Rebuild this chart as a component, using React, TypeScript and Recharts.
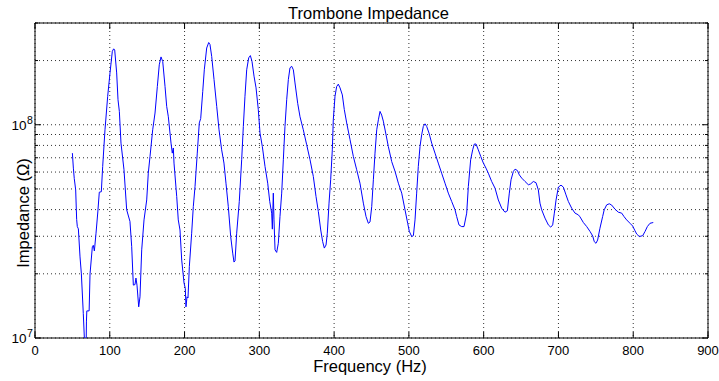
import { CartesianGrid, Line, LineChart, ReferenceArea, XAxis, YAxis } from "recharts"

const FREQ = [
  50, 51.3, 52.5, 54.4, 55.7, 56.6, 58, 60.2, 62, 64.6, 66, 67, 68.2, 68.8, 69.3, 72.4, 73.6, 76.7, 78, 79.4,
  81.6, 84, 86, 88.7, 90.5, 93.6, 97.2, 100.3, 103.4, 105.2, 106.6, 109.2, 111, 112.8, 115, 119, 122.6, 127,
  129.3, 131.5, 133.7, 135, 136.4, 138.7, 140.4, 142.7, 145.8, 149.4, 151.5, 153.8, 157.4, 160.5, 163.6, 166.2,
  168.5, 170.8, 173.9, 176.1, 178.3, 181.9, 183.6, 185, 185.9, 189.5, 191.6, 193.9, 196.2, 199.3, 201, 201.9,
  203.3, 204.6, 206.4, 209.5, 211.7, 214, 217, 219.7, 221.6, 224.3, 226.4, 229.6, 232.3, 234, 236.3, 239.4,
  243, 246.1, 249.6, 252.7, 255.4, 258.5, 261.7, 264.4, 266.1, 267.5, 269.7, 273.2, 276.4, 278.6, 280.8, 283.1,
  285.8, 288, 290.2, 292.9, 295.6, 298.6, 300.9, 304, 307.6, 311.2, 313.9, 316.5, 317.4, 318.7, 319.6, 321,
  323.2, 325.4, 327.6, 329.9, 332.1, 334.3, 336.6, 338.8, 341, 343.3, 345.5, 347.7, 351.3, 354.4, 358.8, 363.3,
  367.8, 372.2, 375.8, 378.9, 382.1, 384.7, 386.9, 389.2, 390.9, 393.2, 395.4, 397.6, 398.9, 401.2, 403.4, 405.6,
  407.9, 411, 413.6, 416.8, 421.3, 425.7, 430.2, 434.6, 439.1, 442.7, 445.8, 448, 450.3, 452.5, 454.7, 457,
  459.2, 461.4, 463.6, 465.8, 469, 472.5, 477, 481.5, 485.9, 490.4, 494.8, 498.4, 500.6, 503.8, 506, 508.2,
  510.4, 512.6, 514.9, 517.1, 519.3, 521.6, 523.8, 526.9, 530.5, 534.9, 539.3, 543.8, 548.3, 552.7, 557.2, 561.7,
  563.9, 567, 570.6, 573.7, 577.3, 579.5, 582.6, 585.3, 587.5, 589.8, 592.8, 596.1, 599.6, 603.1, 606.2, 610.7,
  615.2, 619.6, 624.1, 628.5, 631.7, 634.3, 636.6, 639.7, 642, 645.1, 647.7, 650.9, 655.3, 659.8, 662.9, 666.4,
  670, 673.1, 675.3, 677.6, 682, 686.5, 689.7, 692.3, 694.5, 696.8, 699.9, 703.4, 706.6, 710.1, 713.2, 717.7,
  722.2, 726.6, 728.8, 733.3, 737.8, 742.2, 745.8, 747.9, 750.2, 752.4, 755.5, 759.1, 761.2, 764.5, 768, 771.2,
  775.6, 780.1, 784.6, 787.7, 791.2, 795.7, 799.3, 802.4, 804.7, 808.2, 812.7, 815.8, 818.9, 822.4, 826.8,
]

const IMPEDANCE = [
  7.36e7, 6.26e7, 5.6e7, 4.95e7, 3.6e7, 3.33e7, 3.25e7, 2.4e7, 2.0e7, 1.3e7, 1.0e7, 8.0e6, 8.0e6, 1.2e7, 1.34e7, 1.34e7, 2.0e7, 2.68e7, 2.72e7, 2.56e7,
  3.1e7, 3.9e7, 4.83e7, 4.85e7, 6.37e7, 9.47e7, 1.36e8, 1.75e8, 2.21e8, 2.27e8, 2.24e8, 1.75e8, 1.31e8, 1.155e8, 8.2e7, 6.15e7, 3.99e7, 3.52e7,
  2.68e7, 1.77e7, 1.78e7, 1.91e7, 1.77e7, 1.4e7, 1.56e7, 2.59e7, 3.58e7, 4.44e7, 5.93e7, 7.1e7, 9.47e7, 1.135e8, 1.51e8, 1.91e8,
  2.08e8, 1.98e8, 1.51e8, 1.22e8, 1.09e8, 8.2e7, 7.36e7, 7.78e7, 6.61e7, 4.61e7, 3.58e7, 3.21e7, 2.32e7, 1.81e7, 1.71e7, 1.4e7,
  1.56e7, 1.54e7, 2.16e7, 3.1e7, 4.13e7, 5.13e7, 7.36e7, 1.02e8, 1.07e8, 1.43e8, 1.81e8, 2.29e8, 2.43e8, 2.38e8, 2.09e8, 1.63e8,
  1.22e8, 9.47e7, 7.63e7, 6.61e7, 5.32e7, 4.13e7, 2.99e7, 2.5e7, 2.27e7, 2.3e7, 3.1e7, 4.37e7, 6.85e7, 9.82e7, 1.36e8, 1.81e8,
  2.06e8, 2.11e8, 1.98e8, 1.69e8, 1.49e8, 1.18e8, 9.14e7, 7.91e7, 6.37e7, 5.32e7, 4.37e7, 3.85e7, 3.24e7, 4.78e7, 3.58e7, 2.59e7,
  2.52e7, 2.78e7, 3.71e7, 4.78e7, 6.85e7, 9.82e7, 1.31e8, 1.63e8, 1.85e8, 1.88e8, 1.81e8, 1.57e8, 1.26e8, 1.09e8, 9.47e7, 8.06e7,
  6.85e7, 5.72e7, 4.61e7, 3.92e7, 3.21e7, 2.83e7, 2.64e7, 2.73e7, 3.1e7, 4.29e7, 5.52e7, 7.63e7, 1.055e8, 1.36e8, 1.51e8, 1.55e8,
  1.49e8, 1.38e8, 1.18e8, 1.02e8, 8.51e7, 7.1e7, 6.15e7, 5.32e7, 4.29e7, 3.71e7, 3.45e7, 3.5e7, 4.13e7, 5.52e7, 7.36e7, 9.47e7,
  1.055e8, 1.155e8, 1.11e8, 1.04e8, 9.14e7, 7.91e7, 6.72e7, 6.04e7, 5.32e7, 4.78e7, 3.99e7, 3.45e7, 3.16e7, 2.99e7, 3.02e7, 3.58e7,
  4.78e7, 6.37e7, 7.91e7, 8.98e7, 9.82e7, 1.01e8, 9.82e7, 9.14e7, 8.2e7, 7.36e7, 6.61e7, 5.93e7, 5.32e7, 4.78e7, 4.37e7, 3.99e7,
  3.71e7, 3.39e7, 3.33e7, 3.33e7, 3.85e7, 5.13e7, 6.85e7, 7.63e7, 8.12e7, 8.12e7, 7.63e7, 7.1e7, 6.61e7, 6.26e7, 5.93e7, 5.42e7,
  5.04e7, 4.44e7, 4.06e7, 3.89e7, 3.95e7, 4.78e7, 5.52e7, 6.04e7, 6.19e7, 6.1e7, 5.82e7, 5.62e7, 5.42e7, 5.23e7, 5.28e7, 5.42e7,
  5.35e7, 4.95e7, 4.29e7, 3.99e7, 3.65e7, 3.39e7, 3.31e7, 3.39e7, 3.85e7, 4.44e7, 5.1e7, 5.21e7, 5.1e7, 4.69e7, 4.37e7, 4.06e7,
  3.85e7, 3.78e7, 3.7e7, 3.48e7, 3.33e7, 3.16e7, 3.01e7, 2.83e7, 2.78e7, 2.88e7, 3.27e7, 3.71e7, 3.99e7, 4.21e7, 4.26e7, 4.2e7,
  4.02e7, 3.89e7, 3.85e7, 3.71e7, 3.58e7, 3.45e7, 3.35e7, 3.18e7, 3.07e7, 2.99e7, 3.02e7, 3.16e7, 3.33e7, 3.45e7, 3.48e7,
]

const X_TICKS = [0, 100, 200, 300, 400, 500, 600, 700, 800, 900]
const Y_TICKS = [1e7, 2e7, 3e7, 4e7, 5e7, 6e7, 7e7, 8e7, 9e7, 1e8, 2e8, 3e8]
const Y_LABELS: Record<number, string> = { 10000000: "7", 100000000: "8" }

const data = FREQ.map((f, i) => ({ f, z: IMPEDANCE[i] }))

// plot box (px)
const LEFT = 35
const RIGHT = 708
const TOP = 23
const BOTTOM = 338

function XTick(props: any) {
  const { x, payload } = props
  return (
    <g>
      <line x1={x} x2={x} y1={BOTTOM} y2={BOTTOM - 6} stroke="#000" />
      <line x1={x} x2={x} y1={TOP} y2={TOP + 6} stroke="#000" />
      <text x={x} y={355} textAnchor="middle" fontSize={13} fill="#000">
        {payload.value}
      </text>
    </g>
  )
}

function YTick(props: any) {
  const { y, payload } = props
  const exp = Y_LABELS[payload.value]
  const len = exp ? 6 : 3
  return (
    <g>
      <line x1={LEFT} x2={LEFT + len} y1={y} y2={y} stroke="#000" />
      <line x1={RIGHT} x2={RIGHT - len} y1={y} y2={y} stroke="#000" />
      {exp && (
        <>
          <text x={26.5} y={y + 5} textAnchor="end" fontSize={13.5} fill="#000">10</text>
          <text x={27} y={y - 1} fontSize={10.5} fill="#000">{exp}</text>
        </>
      )}
    </g>
  )
}

export default function App() {
  return (
    <div
      style={{
        position: "absolute",
        left: 0,
        top: 0,
        width: 719,
        height: 381,
        background: "#fff",
        fontFamily: "'Liberation Sans', Arial, Helvetica, sans-serif",
      }}
    >
      <LineChart width={719} height={381} data={data} margin={{ top: TOP, right: 719 - RIGHT, bottom: 0, left: 0 }}>
        <CartesianGrid stroke="#333" strokeDasharray="1 3" />
        <XAxis
          type="number"
          dataKey="f"
          domain={[0, 900]}
          ticks={X_TICKS}
          interval={0}
          height={381 - BOTTOM}
          tickLine={false}
          axisLine={false}
          tick={<XTick />}
        />
        <YAxis
          type="number"
          scale="log"
          domain={[1e7, 3e8]}
          ticks={Y_TICKS}
          interval={0}
          allowDataOverflow
          width={LEFT}
          tickLine={false}
          axisLine={false}
          tick={<YTick />}
        />
        <ReferenceArea x1={0} x2={900} y1={1e7} y2={3e8} fill="none" stroke="#000" strokeWidth={1} />
        <Line
          type="linear"
          dataKey="z"
          stroke="#0000ff"
          strokeWidth={1}
          dot={false}
          isAnimationActive={false}
        />
        <text x={368.5} y={19} textAnchor="middle" fontSize={16.5} fill="#000">
          Trombone Impedance
        </text>
        <text x={370} y={371.5} textAnchor="middle" fontSize={16.5} fill="#000">
          Frequency (Hz)
        </text>
        <text transform="translate(28.5,213) rotate(-90)" textAnchor="middle" fontSize={16.5} fill="#000">
          Impedance (Ω)
        </text>
      </LineChart>
    </div>
  )
}
